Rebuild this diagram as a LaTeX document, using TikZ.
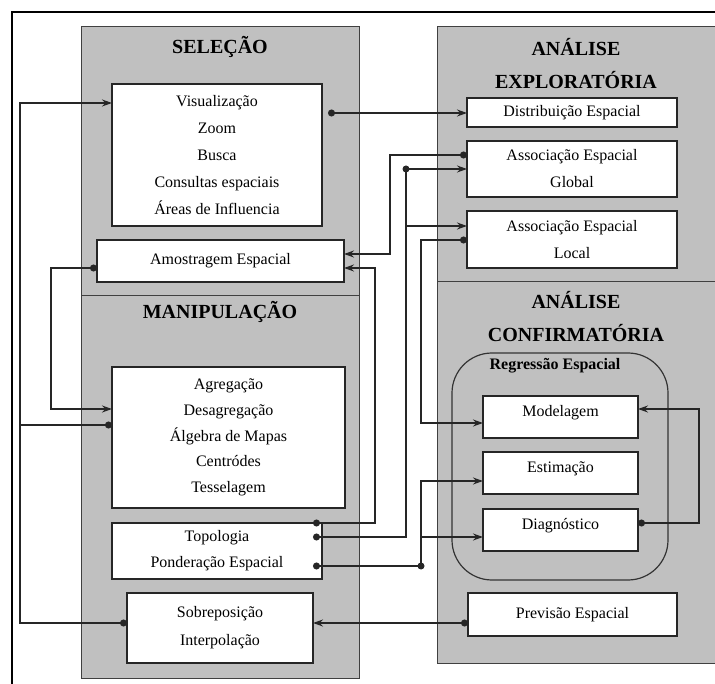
\documentclass[tikz,border=0pt]{standalone}
\usepackage{fontspec}
\setmainfont{Liberation Serif}
\usetikzlibrary{arrows.meta}
\definecolor{painel}{RGB}{192,192,192}
\tikzset{
  caixa/.style={draw=black!85, fill=white, line width=1.2pt, inner sep=0pt, outer sep=0pt,
    align=center, anchor=north west, font=\fontsize{16}{27}\selectfont},
  acima/.style={text depth=12pt, text height=11pt},
  titulo/.style={font=\bfseries\fontsize{20}{33}\selectfont, align=center},
  liga/.style={line width=1.4pt, draw=black!85},
  seta/.style={liga, -{Stealth[length=10pt,width=7pt]}},
  pontoseta/.style={liga, {Circle[length=7pt]}-{Stealth[length=10pt,width=7pt]}},
  ponto/.style={liga, {Circle[length=7pt]}-}
}

\begin{document}
\begin{tikzpicture}[x=1pt, y=-1pt]
			%%%%% START %%%%%
			\useasboundingbox (0,0) rectangle (715,684);
			\clip (0,0) rectangle (715,684);
			
			\draw[line width=2pt] (12,700) -- (12,12) -- (730,12);
			
			% paineis
			\draw[fill=painel, draw=black!75, line width=1pt] (81,27) rectangle (359,296);
			\draw[fill=painel, draw=black!75, line width=1pt] (81,296) rectangle (359,678);
			\draw[fill=painel, draw=black!75, line width=1pt] (437,27) rectangle (720,282);
			\draw[fill=painel, draw=black!75, line width=1pt] (437,282) rectangle (720,663);
			\draw[rounded corners=40pt, draw=black!80, line width=1.2pt] (452,353) rectangle (668,580);
			
			\node[titulo] (selecao) at (220,47) {SELEÇÃO};
			\node[titulo] (manip) at (220,312) {MANIPULAÇÃO};
			\node[titulo] (explor) at (576,64) {ANÁLISE\\EXPLORATÓRIA};
			\node[titulo] (confirm) at (576,317) {ANÁLISE\\CONFIRMATÓRIA};
			\node[font=\bfseries\fontsize{16}{20}\selectfont] (regtit) at (555,366) {Regressão Espacial};
			
			% caixas
			\node[caixa, minimum width=210pt, minimum height=142pt] (visual) at (112,84)
				{Visualização\\Zoom\\Busca\\Consultas espaciais\\Áreas de Influencia};
			\node[caixa, minimum width=247pt, minimum height=42pt] (amost) at (97,240) {Amostragem Espacial};
			\node[caixa, minimum width=233pt, minimum height=141pt, font=\fontsize{16}{25.7}\selectfont] (agreg) at (112,367)
				{Agregação\\Desagregação\\Álgebra de Mapas\\Centródes\\Tesselagem};
			\node[caixa, minimum width=210pt, minimum height=56pt, font=\fontsize{16}{26}\selectfont] (topo) at (112,523)
				{Topologia\\Ponderação Espacial};
			\node[caixa, minimum width=186pt, minimum height=70pt, font=\fontsize{16}{28}\selectfont] (sobre) at (127,593)
				{Sobreposição\\Interpolação};
			
			\node[caixa, minimum width=210pt, minimum height=29pt] (distr) at (467,98) {Distribuição Espacial};
			\node[caixa, minimum width=210pt, minimum height=56pt] (global) at (467,141) {Associação Espacial\\Global};
			\node[caixa, minimum width=210pt, minimum height=57pt] (local) at (467,211) {Associação Espacial\\Local};
			\node[caixa, acima, minimum width=155pt, minimum height=42pt] (model) at (483,396) {Modelagem};
			\node[caixa, acima, minimum width=155pt, minimum height=42pt] (estim) at (483,452) {Estimação};
			\node[caixa, acima, minimum width=155pt, minimum height=42pt] (diag) at (483,509) {Diagnóstico};
			\node[caixa, minimum width=209pt, minimum height=43pt] (previs) at (468,593) {Previsão Espacial};
			
			% ligacoes
			\draw[pontoseta] ([yshift=-58pt]agreg.north west) -- (20,425) -- (20,103) -- ([yshift=-19pt]visual.north west);
			\draw[ponto] ([yshift=-30pt]sobre.north west) -- (20,623) -- (20,425);
			\draw[pontoseta] ([yshift=-28pt]amost.north west) -- (51,268) -- (51,409) -- ([yshift=-42pt]agreg.north west);
			\draw[pontoseta] ([xshift=6pt,yshift=-29pt]visual.north east) -- ([yshift=-15pt]distr.north west);
			\draw[pontoseta] ([yshift=-14pt]global.north west) -- (390,155) -- (390,254) -- ([yshift=-14pt]amost.north east);
			\draw[pontoseta] ([xshift=-9pt]topo.north east) -- (375,523) -- (375,268) -- ([yshift=-28pt]amost.north east);
			\draw[pontoseta] ([xshift=-9pt,yshift=-14pt]topo.north east) -- (406,537) -- (406,169) -- ([yshift=-28pt]global.north west);
			\draw[seta] (406,226) -- ([yshift=-15pt]local.north west);
			\fill[black!85] (406,169) circle (3.5pt);
			\draw[pontoseta] ([yshift=-29pt]local.north west) -- (421,240) -- (421,423) -- ([yshift=-27pt]model.north west);
			\draw[pontoseta] ([xshift=-9pt,yshift=-43pt]topo.north east) -- (421,566) -- (421,481) -- ([yshift=-29pt]estim.north west);
			\draw[seta] (421,537) -- ([yshift=-28pt]diag.north west);
			\fill[black!85] (421,566) circle (3.5pt);
			\draw[pontoseta] ([yshift=-14pt]diag.north east) -- (699,523) -- (699,409) -- ([yshift=-13pt]model.north east);
			\draw[pontoseta] ([yshift=-30pt]previs.north west) -- ([yshift=-30pt]sobre.north east);
			
			%%%%% END %%%%%
\end{tikzpicture}
\end{document}
